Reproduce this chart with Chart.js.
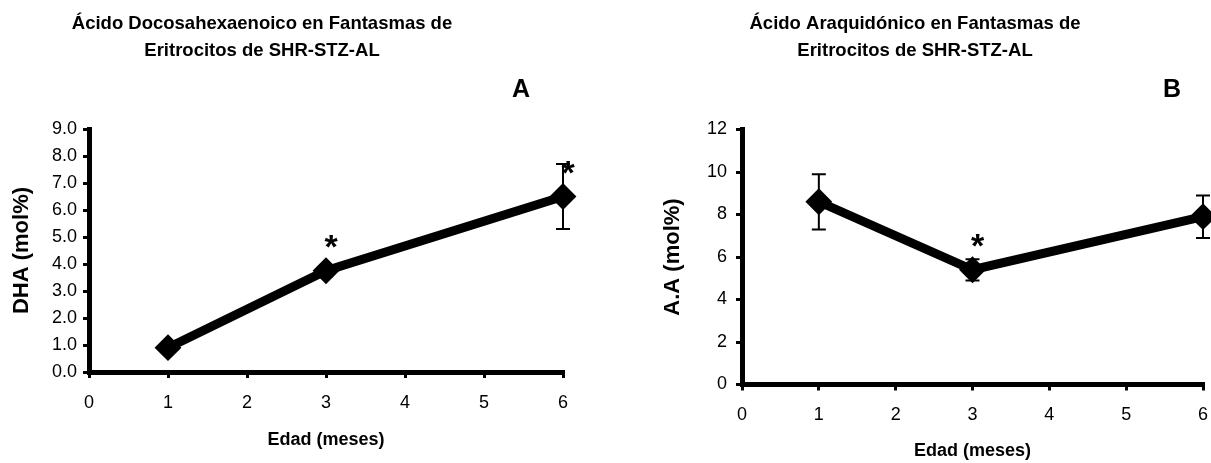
<!DOCTYPE html>
<html>
<head>
<meta charset="utf-8">
<script src="https://cdn.jsdelivr.net/npm/chart.js@4.4.0/dist/chart.umd.min.js"></script>
<style>
  body { margin: 0; background: #fff; }
  #wrap { position: relative; width: 1211px; height: 463px; overflow: hidden; }
  canvas { position: absolute; top: 0; }
</style>
</head>
<body>
<div id="wrap">
  <canvas id="chartA" width="600" height="463" style="left:0"></canvas>
  <canvas id="chartB" width="640" height="463" style="left:600px"></canvas>
</div>
<script>
// edad en meses
var meses = [1, 3, 6];

// DHA (mol%)
var dha = [0.9, 3.75, 6.5];
var dhaErr = [0.2, 0.2, 1.2];
var dhaSig = [false, true, true];

// acido araquidonico (mol%)
var aa = [8.6, 5.4, 7.9];
var aaErr = [1.3, 0.5, 1.0];
var aaSig = [false, true, false];

var xTicks = [0, 1, 2, 3, 4, 5, 6];

Chart.defaults.font.family = '"Liberation Sans", Arial, sans-serif';
Chart.defaults.color = '#000';

// error bars + asterisks + titles, drawn after the line
function panelExtras(p) {
  return {
    id: 'panelExtras',
    afterDatasetsDraw: function(chart) {
      var ctx = chart.ctx;
      var xs = chart.scales.x, ys = chart.scales.y;
      ctx.save();
      ctx.strokeStyle = '#000';
      ctx.lineWidth = 2;
      for (var i = 0; i < p.x.length; i++) {
        var px = xs.getPixelForValue(p.x[i]);
        var top = ys.getPixelForValue(p.y[i] + p.err[i]);
        var bot = ys.getPixelForValue(p.y[i] - p.err[i]);
        ctx.beginPath();
        ctx.moveTo(px, top); ctx.lineTo(px, bot);
        ctx.moveTo(px - 7, top); ctx.lineTo(px + 7, top);
        ctx.moveTo(px - 7, bot); ctx.lineTo(px + 7, bot);
        ctx.stroke();
      }
      ctx.fillStyle = '#000';
      ctx.textAlign = 'center';
      ctx.textBaseline = 'alphabetic';
      ctx.font = 'bold 34px "Liberation Sans", Arial, sans-serif';
      for (var j = 0; j < p.x.length; j++) {
        if (!p.sig[j]) continue;
        var m = ctx.measureText('*');
        var cx = xs.getPixelForValue(p.x[j]) + 5;
        var cy = ys.getPixelForValue(p.y[j]) - 29;
        ctx.fillText('*', cx, cy + (m.actualBoundingBoxAscent - m.actualBoundingBoxDescent) / 2);
      }
      ctx.textBaseline = 'middle';
      ctx.font = 'bold 18.5px "Liberation Sans", Arial, sans-serif';
      ctx.fillText(p.title[0], p.titleX, 24);
      ctx.fillText(p.title[1], p.titleX, 51);
      ctx.font = 'bold 25px "Liberation Sans", Arial, sans-serif';
      ctx.fillText(p.letter, p.letterX, 90);
      ctx.restore();
    }
  };
}

function makePanel(id, p) {
  return new Chart(document.getElementById(id), {
    type: 'line',
    data: {
      datasets: [{
        data: p.x.map(function(v, i) { return { x: v, y: p.y[i] }; }),
        borderColor: '#000',
        borderWidth: 9,
        backgroundColor: '#000',
        pointStyle: 'rectRot',
        pointRadius: 12,
        pointBorderWidth: 2,
        pointBackgroundColor: '#000',
        pointBorderColor: '#000',
        tension: 0,
        clip: false
      }]
    },
    options: {
      responsive: false,
      animation: false,
      layout: { padding: { top: p.top, right: p.right, left: 0, bottom: 0 } },
      plugins: { legend: { display: false }, tooltip: { enabled: false } },
      scales: {
        x: {
          type: 'linear', min: 0, max: 6,
          afterBuildTicks: function(s) { s.ticks = xTicks.map(function(v) { return { value: v }; }); },
          ticks: { font: { size: 18 }, padding: p.xPad },
          grid: { drawOnChartArea: false, tickLength: 6, lineWidth: 3, color: '#000' },
          border: { width: 5, color: '#000' },
          title: { display: true, text: 'Edad (meses)', font: { size: 18, weight: 'bold' },
                   padding: { top: 0, bottom: p.xTitlePad } },
          afterFit: function(s) { s.height = p.xHeight; }
        },
        y: {
          min: 0, max: p.yMax,
          ticks: { stepSize: p.yStep, font: { size: 18 }, padding: p.yPad,
                   callback: p.yFmt },
          grid: { drawOnChartArea: false, tickLength: 6, lineWidth: 3, color: '#000' },
          border: { width: 5, color: '#000' },
          title: { display: true, text: p.yTitle, font: { size: 22, weight: 'bold' },
                   padding: { top: p.yTitlePad, bottom: 0 } },
          afterFit: function(s) { s.width = p.yWidth; }
        }
      }
    },
    plugins: [panelExtras(p)]
  });
}

makePanel('chartA', {
  x: meses, y: dha, err: dhaErr, sig: dhaSig,
  yMax: 9, yStep: 1, yPad: 6,
  yFmt: function(v) { return v.toFixed(1); },
  yTitle: 'DHA (mol%)',
  top: 129, right: 37, yWidth: 89, xHeight: 91,
  xPad: 14, xTitlePad: 12, yTitlePad: 9,
  title: ['Ácido Docosahexaenoico en Fantasmas de', 'Eritrocitos de SHR-STZ-AL'],
  titleX: 262, letter: 'A', letterX: 521
});

makePanel('chartB', {
  x: meses, y: aa, err: aaErr, sig: aaSig,
  yMax: 12, yStep: 2, yPad: 9,
  yFmt: function(v) { return v; },
  yTitle: 'A.A (mol%)',
  top: 129.5, right: 37, yWidth: 142, xHeight: 78.5,
  xPad: 14, xTitlePad: 1, yTitlePad: 60,
  title: ['Ácido Araquidónico en Fantasmas de', 'Eritrocitos de SHR-STZ-AL'],
  titleX: 315, letter: 'B', letterX: 572
});
</script>
</body>
</html>
